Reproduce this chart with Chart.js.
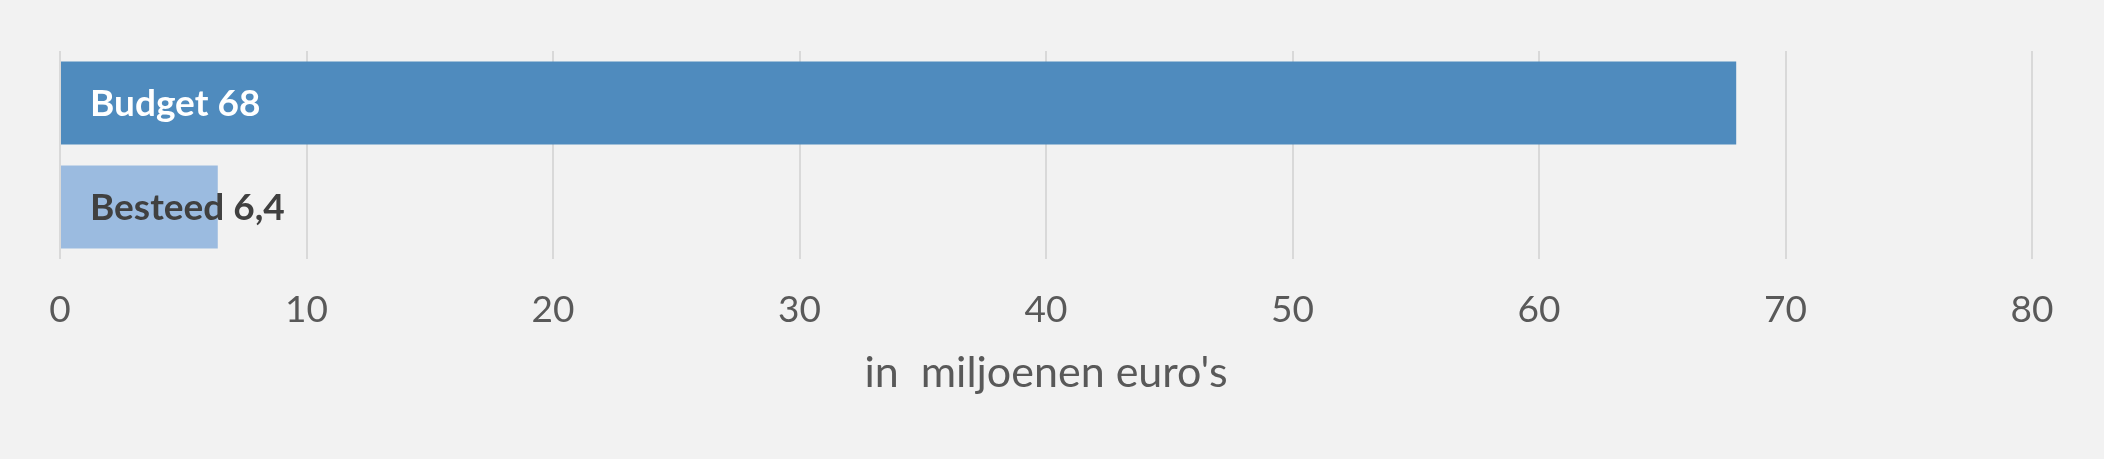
<!DOCTYPE html>
<html>
<head>
<meta charset="utf-8">
<script src="https://cdn.jsdelivr.net/npm/chart.js@4"></script>
<style>
  html, body { margin: 0; padding: 0; background: #F2F2F2; }
  #wrap { width: 2104px; height: 459px; position: relative; }
</style>
</head>
<body>
<div id="wrap"><canvas id="c"></canvas></div>
<script>
const categories = ['Budget', 'Besteed'];
const values = [68, 6.4];
const barColors = ['#4F8BBE', '#9BBBE0'];
const labelColors = ['#FFFFFF', '#404040'];
const xTicksMax = 80;
const axisTitle = "in  miljoenen euro's";

const FONT = 'Lato, "Open Sans", sans-serif';

const insideBaseLabels = {
  id: 'insideBaseLabels',
  afterDatasetsDraw(chart) {
    const ctx = chart.ctx;
    const meta = chart.getDatasetMeta(0);
    ctx.save();
    ctx.font = 'bold 37px ' + FONT;
    ctx.textBaseline = 'middle';
    ctx.textAlign = 'left';
    meta.data.forEach((bar, i) => {
      const txt = categories[i] + ' ' + String(values[i]).replace('.', ',');
      ctx.fillStyle = labelColors[i];
      ctx.fillText(txt, bar.base + 29, bar.y + 1);
    });
    ctx.restore();
  }
};

new Chart(document.getElementById('c'), {
  type: 'bar',
  data: {
    labels: categories,
    datasets: [{
      data: values,
      backgroundColor: barColors,
      borderWidth: 0,
      categoryPercentage: 1.0,
      barPercentage: 0.8
    }]
  },
  options: {
    indexAxis: 'y',
    responsive: true,
    maintainAspectRatio: false,
    animation: false,
    events: [],
    layout: { padding: { left: 60, right: 72, top: 51, bottom: 60 } },
    plugins: { legend: { display: false }, tooltip: { enabled: false } },
    scales: {
      y: { display: false },
      x: {
        min: 0,
        max: xTicksMax,
        ticks: { stepSize: 10, color: '#595959', font: { family: FONT, size: 37 }, padding: 29 },
        grid: { color: '#D9D9D9', lineWidth: 2, drawTicks: false },
        border: { display: false },
        title: { display: true, text: axisTitle, color: '#595959', font: { family: FONT, size: 43 }, padding: { top: -14, bottom: 0 } }
      }
    }
  },
  plugins: [insideBaseLabels]
});
</script>
</body>
</html>
